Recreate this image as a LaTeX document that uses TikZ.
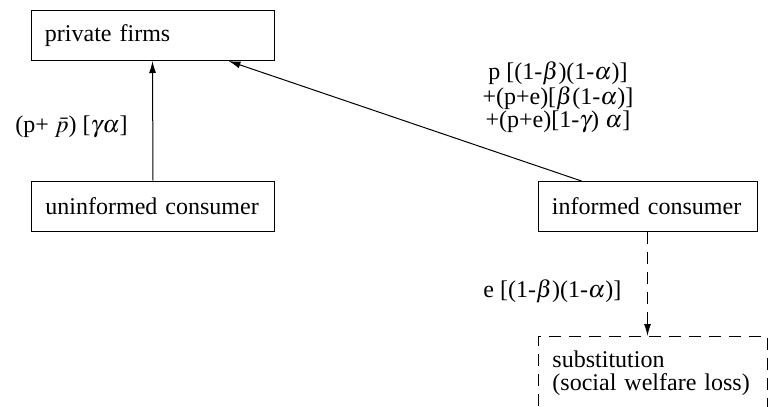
\documentclass[tikz,border=0pt]{standalone}
\usepackage{mathptmx}
\usepackage[no-math]{fontspec}
\setmainfont{Liberation Serif}
\usetikzlibrary{arrows.meta}

\begin{document}
\begin{tikzpicture}[x = 0.5pt, y = -0.5pt, font = \fontsize{12}{11.5}\selectfont,
  box/.style = {draw, line width = 0.5pt, align = left, inner xsep = 7pt, inner ysep = 4pt, minimum height = 25pt},
  dashbox/.style = {box, dash pattern = on 6pt off 4pt, inner ysep = 7pt},
  flow/.style = {line width = 0.5pt, -{Latex[length = 6pt, width = 3.5pt]}},
  lbl/.style = {inner sep = 0pt}]
\useasboundingbox (0, 0) rectangle (768, 407);
\clip (0, 0) rectangle (768, 407);
% boxes
\node (firms) at (152.5, 35.5) [box, text width = 107.5pt] {private firms};
\node (uninf) at (153, 206) [box, text width = 107.5pt] {uninformed consumer};
\node (inf) at (647.5, 206.5) [box, text width = 95.5pt] {informed consumer};
\node (subst) at (538, 336) [dashbox, anchor = north west, text width = 100.5pt, text depth = 40pt] {substitution\\(social welfare loss)};
% flows
\draw [flow] (uninf.north) -- (firms.south);
\draw [flow] ([xshift = 22pt]inf.north west) -- ([xshift = -23pt]firms.south east);
\draw [flow, dash pattern = on 6pt off 4pt] (inf.south) -- (inf.south |- subst.north);
% labels
\node (lblu) at (15, 133) [lbl, anchor = base west] {(p+ $\bar{p}$) [$\gamma\alpha$]};
\node (lbli) at (558, 97) [lbl, align = center] {p [(1-$\beta$)(1-$\alpha$)]\\+(p+e)[$\beta$(1-$\alpha$)]\\+(p+e)[1-$\gamma$) $\alpha$]};
\node (lbls) at (483, 297) [lbl, anchor = base west] {e [(1-$\beta$)(1-$\alpha$)]};
\end{tikzpicture}
\end{document}
